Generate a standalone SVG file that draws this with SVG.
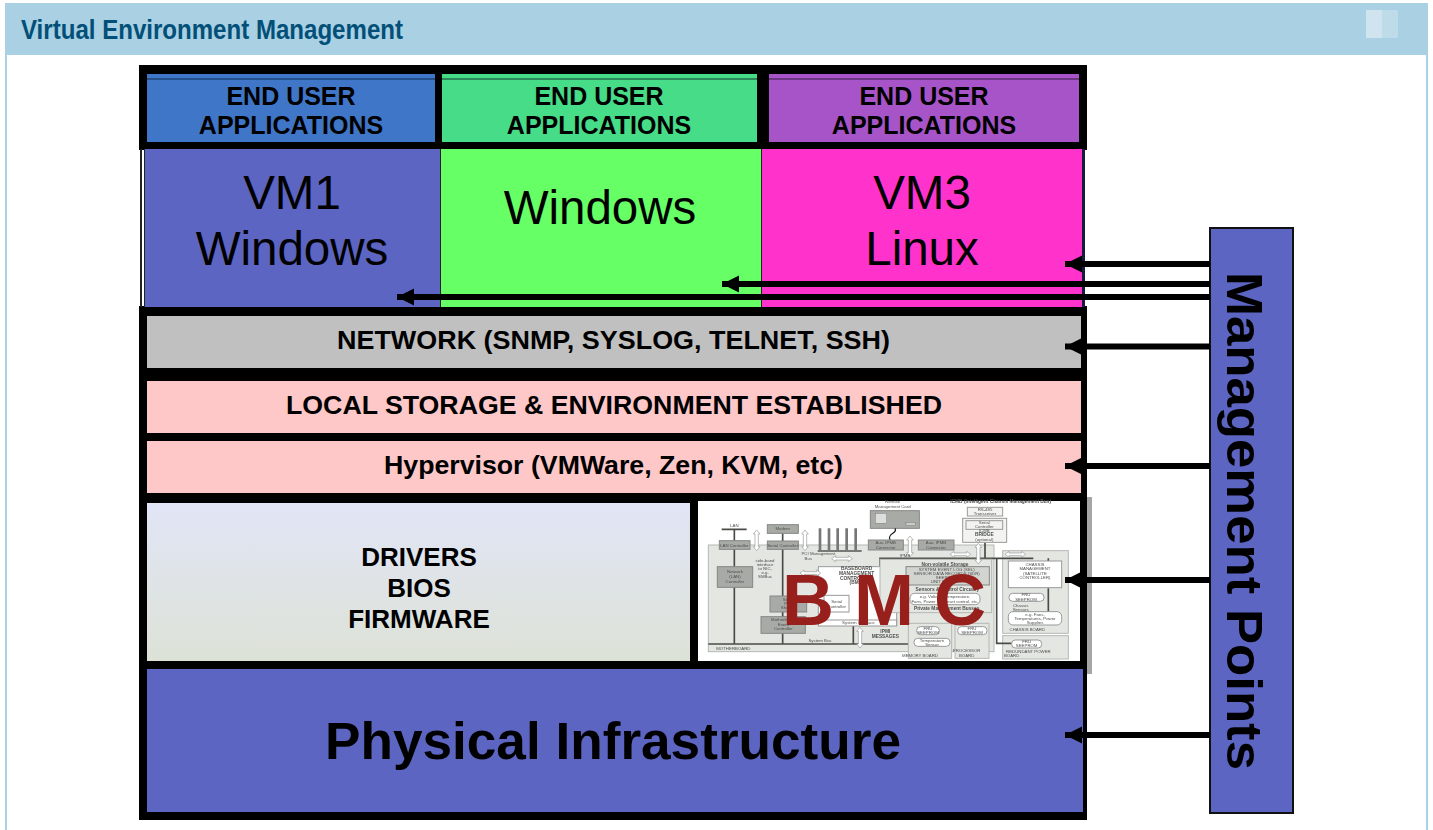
<svg xmlns="http://www.w3.org/2000/svg" width="1433" height="830" viewBox="0 0 1433 830">
<style>
text{font-family:"Liberation Sans",Arial,sans-serif;text-anchor:middle;fill:#000}
.h{font-size:25px;font-weight:bold}
.l{font-size:26px;font-weight:bold}
.vm{font-size:47.5px}
.arr{stroke:#000;stroke-width:6;fill:none;marker-end:url(#ah)}
.g1{fill:#e3e6e1;stroke:#b5b8b3;stroke-width:3}
.g2{fill:#a8aaa6;stroke:#858784;stroke-width:3}
.g3{fill:#f3f4f2;stroke:#9a9c98;stroke-width:3}
.w{fill:#fff;stroke:#999;stroke-width:3}
.bus{stroke:#4a4c48;stroke-width:5;fill:none}
.t{font-size:13px;fill:#4d4f4c}
.tb{font-size:14.5px;font-weight:bold;fill:#4d4f4c}
.da{fill:#fff;stroke:#999;stroke-width:2}
</style>
<defs>
<marker id="ah" markerUnits="userSpaceOnUse" markerWidth="18" markerHeight="18" refX="17" refY="9" orient="auto"><path d="M17 9L0 0.5V17.5Z" fill="#000"/></marker>
<linearGradient id="drv" x1="0" y1="0" x2="0" y2="1"><stop offset="0" stop-color="#e1e5f6"/><stop offset="1" stop-color="#dde2d7"/></linearGradient>
<filter id="soft" x="-2%" y="-2%" width="104%" height="104%"><feGaussianBlur stdDeviation="0.6"/></filter>
<path id="dv" d="M-10 12L0 0L10 12H5V50H10L0 62L-10 50H-5V12Z" class="da"/>
<path id="dh" d="M0 9L12 0V5H50V0L62 9L50 18V13H12V18Z" class="da"/>
</defs>
<rect width="1433" height="830" fill="#fff"/>
<g id="header">
<rect x="5" y="3" width="1423" height="52" fill="#a9d0e3"/>
<rect x="5" y="55" width="2" height="775" fill="#a9d0e3"/>
<rect x="1426" y="55" width="2" height="775" fill="#a9d0e3"/>
<rect x="1366" y="10" width="16" height="28" fill="#cfe4ee"/>
<rect x="1382" y="10" width="16" height="28" fill="#bddbe9"/>
<text x="21" y="39" style="text-anchor:start;font-size:28px;font-weight:bold;fill:#024f78" textLength="382" lengthAdjust="spacingAndGlyphs">Virtual Environment Management</text>
</g>
<g id="frame"><rect x="139" y="65" width="948" height="85" fill="#000"/><rect x="139" y="306" width="948" height="514" fill="#000"/><rect x="1087" y="497" width="5" height="177" fill="#a6a6a6"/></g>
<g id="vm1">
<rect x="147" y="74" width="288" height="68" fill="#3f76c8"/><rect x="147" y="78" width="288" height="2" fill="#24508c"/>
<text class="h" x="291" y="105">END USER</text><text class="h" x="291" y="134">APPLICATIONS</text>
<rect x="145" y="149" width="295" height="158" fill="#5c65c2"/><rect x="140" y="149" width="2" height="158" fill="#222"/><rect x="144" y="149" width="1" height="158" fill="#222"/>
<text class="vm" x="292" y="209">VM1</text><text class="vm" x="292" y="265">Windows</text>
</g>
<g id="vm2">
<rect x="442" y="74" width="315" height="68" fill="#46dc88"/><rect x="442" y="78" width="315" height="2" fill="#2c8a58"/>
<text class="h" x="599" y="105">END USER</text><text class="h" x="599" y="134">APPLICATIONS</text>
<rect x="441" y="149" width="320" height="158" fill="#66ff66"/>
<text class="vm" x="600" y="224">Windows</text>
</g>
<g id="vm3">
<rect x="769" y="74" width="310" height="68" fill="#a854c9"/><rect x="769" y="78" width="310" height="2" fill="#6e3586"/>
<text class="h" x="924" y="105">END USER</text><text class="h" x="924" y="134">APPLICATIONS</text>
<rect x="762" y="149" width="320" height="158" fill="#ff33cc"/><rect x="1082" y="149" width="3" height="158" fill="#1a1a40"/><rect x="440" y="149" width="1" height="158" fill="#222"/><rect x="761" y="149" width="1" height="158" fill="#222"/>
<text class="vm" x="922" y="209">VM3</text><text class="vm" x="922" y="265">Linux</text>
</g>
<g id="network"><rect x="147" y="316" width="934" height="52" fill="#c0c0c0"/><text class="l" x="613.500" y="349" textLength="553" lengthAdjust="spacingAndGlyphs">NETWORK (SNMP, SYSLOG, TELNET, SSH)</text></g>
<g id="storage"><rect x="147" y="381" width="934" height="52" fill="#ffc8c8"/><text class="l" x="614" y="414" textLength="656" lengthAdjust="spacingAndGlyphs">LOCAL STORAGE &amp; ENVIRONMENT ESTABLISHED</text></g>
<g id="hypervisor"><rect x="147" y="441" width="934" height="52" fill="#ffc8c8"/><text class="l" x="613.500" y="474" textLength="459" lengthAdjust="spacingAndGlyphs">Hypervisor (VMWare, Zen, KVM, etc)</text></g>
<g id="drivers"><rect x="147" y="503" width="543" height="158" fill="url(#drv)"/>
<text class="l" x="419" y="566">DRIVERS</text><text class="l" x="419" y="597">BIOS</text><text class="l" x="419" y="628">FIRMWARE</text></g>
<g id="bmc">
<rect x="698" y="501" width="382" height="160" fill="#fff"/>
<g transform="translate(690 490) scale(.33333)" filter="url(#soft)">
<rect class="g1" x="55" y="165" width="857" height="320"/>
<rect class="g1" x="938" y="182" width="197" height="248"/>
<rect class="g1" x="938" y="437" width="197" height="70"/>
<path class="bus" d="M95 118H170M133 118V460M278 130V460M55 462H660M490 405V460M570 230V205H1030M885 158V205M920 205V460H965M1075 205V215M1075 295V365"/>
<g stroke="#777" stroke-width="8"><path d="M390 115V180M417 115V180M443 115V180M470 115V180M497 115V180"/></g>
<path d="M383 183H515" stroke="#555" stroke-width="5"/>
<rect class="g2" x="88" y="152" width="92" height="26"/><rect class="g2" x="232" y="104" width="93" height="26"/><rect class="g2" x="232" y="153" width="93" height="25"/>
<rect class="g2" x="82" y="230" width="106" height="62"/><rect class="g2" x="240" y="318" width="110" height="48"/><rect class="g2" x="213" y="380" width="133" height="50"/>
<rect class="g2" x="541" y="62" width="147" height="53"/><rect x="556" y="70" width="34" height="30" fill="#ddd" stroke="#555"/><rect x="648" y="97" width="28" height="10" fill="#ccc" stroke="#555"/>
<path d="M615 115C625 130 590 130 600 150" stroke="#222" stroke-width="4" fill="none"/>
<rect class="g2" x="535" y="150" width="105" height="30"/><rect class="g2" x="685" y="150" width="107" height="30"/>
<rect class="g3" x="832" y="52" width="106" height="26"/><rect class="g3" x="818" y="85" width="132" height="72"/><rect class="g3" x="828" y="92" width="110" height="26"/>
<rect class="w" x="385" y="230" width="235" height="175"/><rect class="w" x="385" y="390" width="235" height="18"/><rect class="w" x="402" y="316" width="75" height="50"/>
<rect class="g1" x="570" y="208" width="335" height="160"/><rect class="g2" x="648" y="230" width="250" height="55" style="fill:#d2d4d0"/>
<rect class="w" x="660" y="310" width="210" height="34" rx="14"/>
<rect class="g1" x="655" y="400" width="130" height="105"/><rect class="g1" x="795" y="400" width="102" height="105"/>
<rect class="w" x="680" y="410" width="68" height="24" rx="11"/><rect class="w" x="672" y="445" width="108" height="24" rx="11"/><rect class="w" x="803" y="410" width="88" height="24" rx="11"/>
<rect class="w" x="955" y="213" width="160" height="80"/><rect class="w" x="957" y="310" width="105" height="24" rx="11"/><rect class="w" x="955" y="365" width="160" height="40" rx="14"/><rect class="w" x="965" y="450" width="90" height="24" rx="11"/>
<use href="#dv" x="200" y="120"/><use href="#dv" x="345" y="120"/><use href="#dv" x="660" y="138"/><use href="#dv" x="865" y="160"/><use href="#dv" x="510" y="412"/>
<use href="#dh" x="425" y="197"/><use href="#dh" x="780" y="184"/><use href="#dh" x="945" y="184"/><use href="#dh" x="330" y="240"/>
<text class="t" x="133" y="112">LAN</text><text class="t" x="133" y="170">LAN Controller</text><text class="t" x="278" y="121">Modem</text><text class="t" x="278" y="170">Serial Controller</text>
<text class="t" x="135" y="250">Network</text><text class="t" x="135" y="265">(LAN)</text><text class="t" x="135" y="280">Controller</text>
<text class="t" x="225" y="216">side-band</text><text class="t" x="225" y="228">interface</text><text class="t" x="225" y="240">to NIC,</text><text class="t" x="225" y="252">e.g.</text><text class="t" x="225" y="264">SMBus</text>
<text class="t" x="385" y="196">PCI Management</text><text class="t" x="355" y="209">Bus</text>
<text class="t" x="608" y="40">Remote</text><text class="t" x="608" y="53">Management Card</text>
<text class="t" x="587" y="163">Aux. IPMB</text><text class="t" x="587" y="176">Connector</text><text class="t" x="738" y="163">Aux. IPMB</text><text class="t" x="738" y="176">Connector</text>
<text class="t" x="645" y="200">IPMB</text>
<text class="tb" x="932" y="40">ICMB (Intelligent Chassis Management Bus)</text>
<text class="t" x="885" y="64">RS-485</text><text class="t" x="885" y="76">Transceiver</text><text class="t" x="883" y="103">Serial</text><text class="t" x="883" y="115">Controller</text><text class="t" x="883" y="127">ICMB</text><text class="tb" x="883" y="139">BRIDGE</text><text class="t" x="883" y="152">(optional)</text>
<text class="tb" x="500" y="241">BASEBOARD</text><text class="tb" x="500" y="255">MANAGEMENT</text><text class="tb" x="500" y="269">CONTROLLER</text><text class="tb" x="500" y="283">(BMC)</text>
<text class="t" x="440" y="339">Serial</text><text class="t" x="440" y="353">Controller</text><text class="t" x="295" y="332">Serial</text><text class="t" x="295" y="345">Port</text><text class="t" x="295" y="358">Sharing</text>
<text class="t" x="280" y="394">Motherboard</text><text class="t" x="280" y="407">Event</text><text class="t" x="280" y="421">Controller</text>
<text class="t" x="505" y="403">System Interface</text><text class="tb" x="586" y="428">IPMI</text><text class="tb" x="586" y="445">MESSAGES</text><text class="t" x="390" y="457">System Bus</text>
<text class="t" x="130" y="479">MOTHERBOARD</text>
<text class="tb" x="765" y="227">Non-volatile Storage</text>
<text class="t" x="770" y="242">SYSTEM EVENT LOG (SEL)</text><text class="t" x="770" y="254">SENSOR DATA RECORDS (SDR)</text><text class="t" x="770" y="266">SEEPROM</text><text class="t" x="770" y="278">UNIT FRU INFO</text>
<text class="tb" x="772" y="303">Sensors &amp; Control Circuitry</text><text class="t" x="765" y="325">e.g. Voltage, Temperature,</text><text class="t" x="765" y="338">Fans, Power and reset control, etc.</text>
<text class="tb" x="770" y="360">Private Management Busses</text>
<text class="t" x="714" y="420">FRU</text><text class="t" x="714" y="432">SEEPROM</text><text class="t" x="726" y="455">Temperature</text><text class="t" x="726" y="467">Sensor</text><text class="t" x="690" y="500">MEMORY BOARD</text>
<text class="t" x="846" y="420">FRU</text><text class="t" x="846" y="432">SEEPROM</text><text class="t" x="830" y="487">PROCESSOR</text><text class="t" x="830" y="500">BOARD</text>
<text class="t" x="1035" y="228">CHASSIS</text><text class="t" x="1035" y="241">MANAGEMENT</text><text class="t" x="1035" y="254">(SATELLITE</text><text class="t" x="1035" y="267">CONTROLLER)</text>
<text class="t" x="1008" y="319">FRU</text><text class="t" x="1008" y="332">SEEPROM</text><text class="t" x="992" y="350">Chassis</text><text class="t" x="992" y="362">Sensors</text><text class="t" x="1035" y="377">e.g. Fans,</text><text class="t" x="1035" y="389">Temperatures, Power</text><text class="t" x="1035" y="401">Supplies</text>
<text class="t" x="1012" y="423">CHASSIS BOARD</text><text class="t" x="1010" y="459">FRU</text><text class="t" x="1010" y="471">SEEPROM</text><text class="t" x="1015" y="489">REDUNDANT POWER</text><text class="t" x="965" y="501">BOARD</text>
</g>
<text x="782" y="625" style="text-anchor:start;font-size:72px;font-weight:bold;fill:#97201c;white-space:pre">B M C</text>
</g>
<g id="physical"><rect x="147" y="669" width="936" height="143" fill="#5c65c2"/><text x="613" y="759" style="font-size:51px;font-weight:bold" textLength="576" lengthAdjust="spacingAndGlyphs">Physical Infrastructure</text></g>
<g id="management"><rect x="1210" y="228" width="83" height="585" fill="#5c65c2" stroke="#111" stroke-width="2"/>
<text transform="translate(1227 521) rotate(90)" style="font-size:50px;font-weight:bold" textLength="498" lengthAdjust="spacingAndGlyphs">Management Points</text></g>
<g id="connectors">
<path class="arr" d="M1210 264H1065"/>
<path class="arr" d="M1210 284H722"/>
<path class="arr" d="M1210 297H397"/>
<path class="arr" d="M1210 346.500H1065"/>
<path class="arr" d="M1210 466H1065"/>
<path class="arr" d="M1210 580H1065"/>
<path class="arr" d="M1210 735H1065"/>
</g>
</svg>
